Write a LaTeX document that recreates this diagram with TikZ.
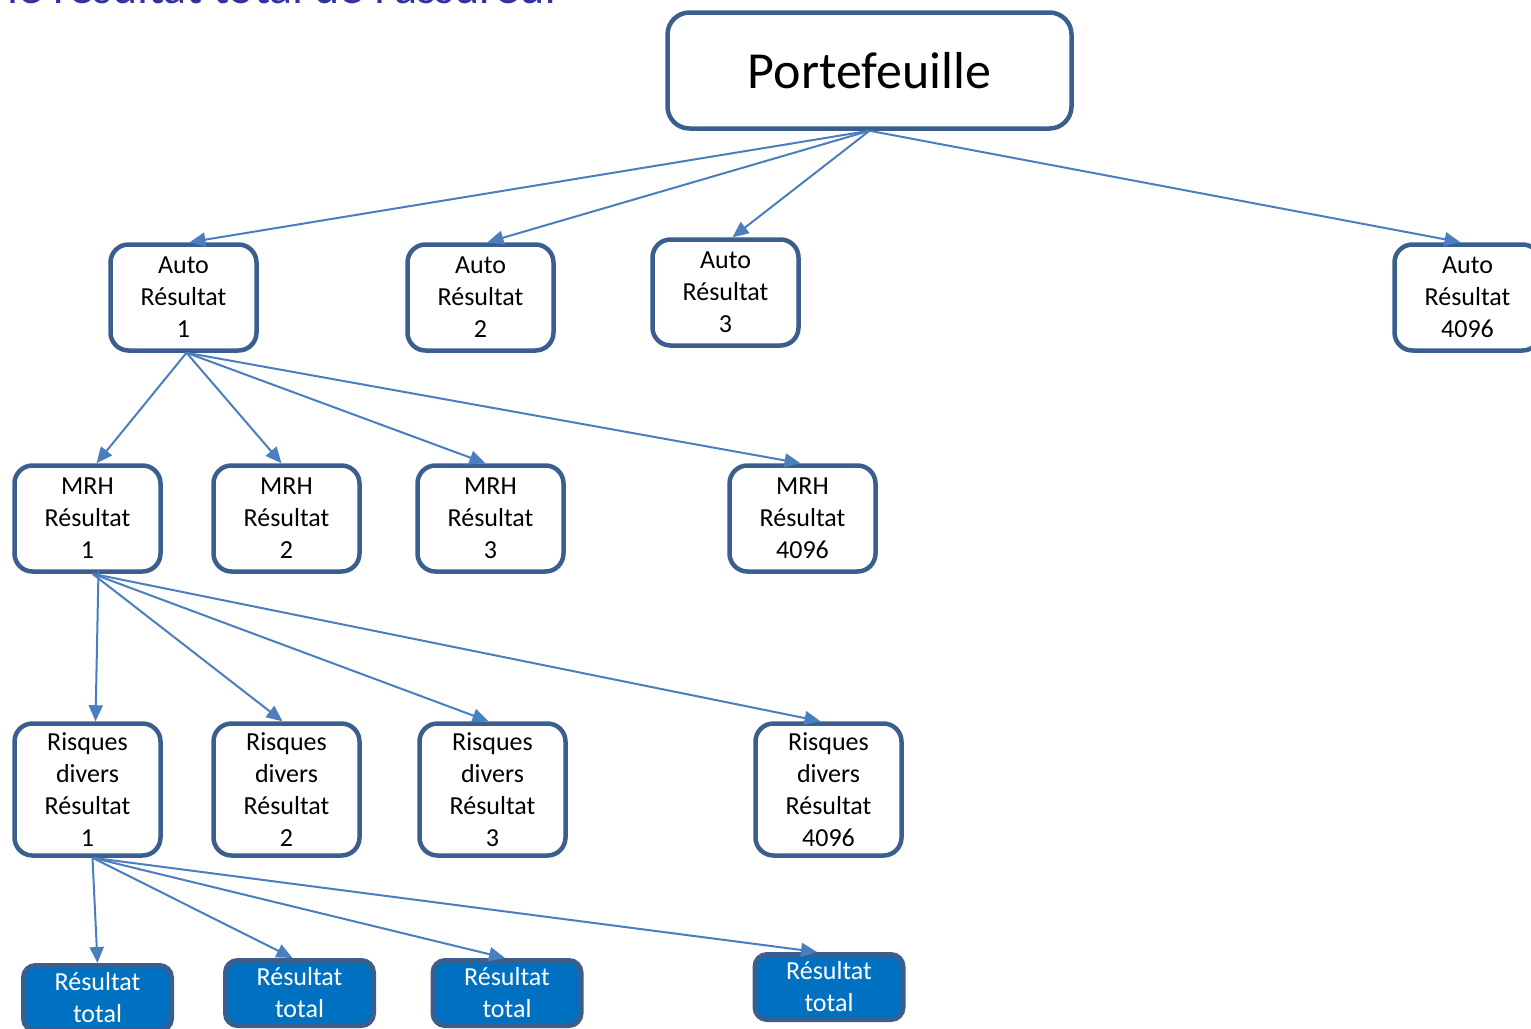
\documentclass[tikz,border=0pt]{standalone}
\usepackage{fontspec}
\setmainfont{Carlito}
\usetikzlibrary{arrows.meta}
\definecolor{boxline}{RGB}{58,95,142}
\definecolor{arrowc}{RGB}{74,126,191}
\definecolor{rtfill}{RGB}{0,112,192}
\definecolor{titlec}{RGB}{51,51,160}
\tikzset{
  box/.style={draw=boxline, line width=4.5pt, rounded corners=18pt, fill=white,
    align=center, inner sep=0pt, minimum width=146pt, minimum height=106pt,
    font=\fontsize{26}{32}\selectfont},
  riskbox/.style={box, minimum height=132pt},
  topbox/.style={box, minimum width=404pt, minimum height=116pt, rounded corners=22pt,
    font=\fontsize{52}{60}\selectfont},
  rtbox/.style={box, fill=rtfill, text=white, line width=5pt, minimum width=148pt,
    minimum height=65pt, rounded corners=12pt},
  conn/.style={draw=arrowc, line width=2pt, -{Triangle[length=16pt,width=14pt]}},
}
\begin{document}
\begin{tikzpicture}[x=1pt,y=-1pt]
\useasboundingbox (0,0) rectangle (1531,1028);
\clip (0,0) rectangle (1531,1028);
\node[anchor=base east, text=titlec, font=\fontsize{48}{56}\selectfont, inner sep=0pt] (title) at (562,3) {le résultat total de l'assureur};

\node[topbox] (port) at (869.5,70.5) {Portefeuille};

\node[box] (a1) at (183.5,297.5) {Auto\\Résultat\\1};
\node[box] (a2) at (480.5,297.5) {Auto\\Résultat\\2};
\node[box] (a3) at (725.5,292.5) {Auto\\Résultat\\3};
\node[box] (a4) at (1467.5,297.5) {Auto\\Résultat\\4096};

\node[box] (m1) at (87.5,518.5) {MRH\\Résultat\\1};
\node[box] (m2) at (286.5,518.5) {MRH\\Résultat\\2};
\node[box] (m3) at (490.5,518.5) {MRH\\Résultat\\3};
\node[box] (m4) at (802.5,518.5) {MRH\\Résultat\\4096};

\node[riskbox] (r1) at (87.5,789.5) {Risques\\divers\\Résultat\\1};
\node[riskbox] (r2) at (286.5,789.5) {Risques\\divers\\Résultat\\2};
\node[riskbox] (r3) at (492.5,789.5) {Risques\\divers\\Résultat\\3};
\node[riskbox] (r4) at (828.5,789.5) {Risques\\divers\\Résultat\\4096};

\node[rtbox] (t1) at (97.5,998) {Résultat\\total};
\node[rtbox] (t2) at (299.5,993) {Résultat\\total};
\node[rtbox] (t3) at (507,993) {Résultat\\total};
\node[rtbox] (t4) at (829,987) {Résultat\\total};

\draw[conn] (port.south) -- ([xshift=6pt]a1.north);
\draw[conn] (port.south) -- ([xshift=7pt]a2.north);
\draw[conn] (port.south) -- ([xshift=7pt]a3.north);
\draw[conn] (port.south) -- ([xshift=-7pt]a4.north);

\draw[conn] ([xshift=3pt]a1.south) -- ([xshift=9pt]m1.north);
\draw[conn] ([xshift=3pt]a1.south) -- ([xshift=-5pt]m2.north);
\draw[conn] ([xshift=3pt]a1.south) -- ([xshift=-5pt]m3.north);
\draw[conn] ([xshift=3pt]a1.south) -- ([xshift=-2pt]m4.north);

\draw[conn] ([xshift=11pt,yshift=3pt]m1.south) -- ([xshift=8pt]r1.north);
\draw[conn] ([xshift=5pt]m1.south) -- ([xshift=-4pt]r2.north);
\draw[conn] ([xshift=5pt]m1.south) -- ([xshift=-4pt]r3.north);
\draw[conn] ([xshift=5pt]m1.south) -- ([xshift=-8pt]r4.north);

\draw[conn] ([xshift=5pt]r1.south) -- (t1.north);
\draw[conn] ([xshift=5pt]r1.south) -- ([xshift=-7pt]t2.north);
\draw[conn] ([xshift=5pt]r1.south) -- ([xshift=-2pt]t3.north);
\draw[conn] ([xshift=5pt]r1.south) -- ([xshift=-12pt]t4.north);
\end{tikzpicture}
\end{document}
